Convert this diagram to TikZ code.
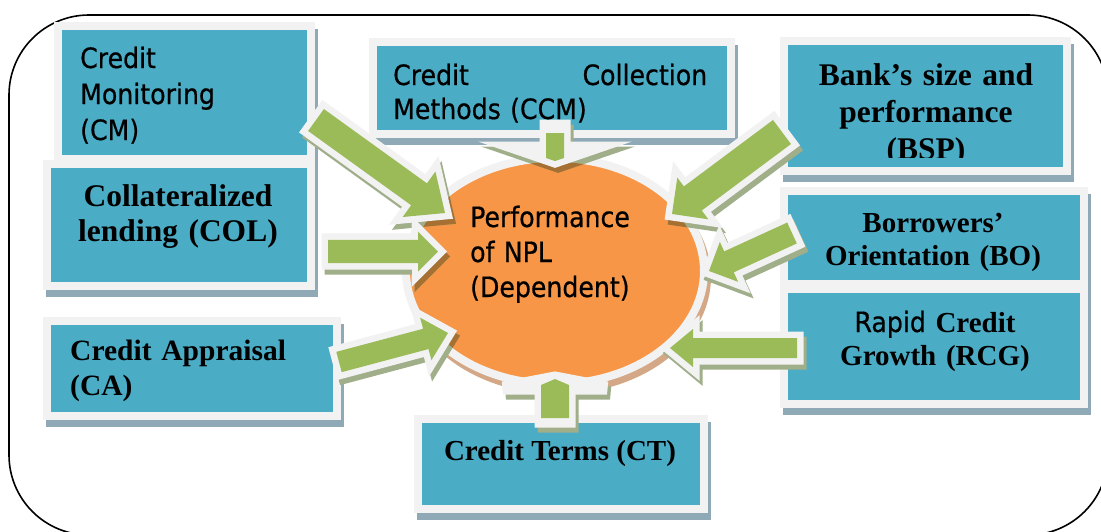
\documentclass[tikz,border=0pt]{standalone}
\usepackage{fontspec}
\usetikzlibrary{calc,shapes.geometric}
\newfontfamily\tahomalike[FakeStretch=0.9,FakeBold=0.6]{DejaVu Sans}
\newfontfamily\timeslike{Liberation Serif}

\definecolor{boxteal}{RGB}{75,172,198}
\definecolor{framegray}{RGB}{242,242,242}
\definecolor{boxshadow}{RGB}{143,170,182}
\definecolor{arrowgreen}{RGB}{155,187,89}
\definecolor{ashadow}{RGB}{160,174,138}
\definecolor{ashadoworange}{RGB}{165,112,50}
\definecolor{nplorange}{RGB}{247,150,70}
\definecolor{ellshadow}{RGB}{212,168,135}

% outline of a block arrow: #1 options, #2 tail, #3 tip,
% #4 head length, #5 head half width, #6 shaft half width
\newcommand{\arrowpath}[6]{%
  \pgfmathsetmacro\ahd{sqrt((#4)^2+(#5)^2)}%
  \pgfmathsetmacro\aha{atan((#5)/(#4))}%
  \pgfmathsetmacro\asd{sqrt((#4)^2+(#6)^2)}%
  \pgfmathsetmacro\asa{atan((#6)/(#4))}%
  \path[#1] ($(#2)!#6pt!-90:(#3)$) -- ($(#3)!\asd pt!\asa:(#2)$)
    -- ($(#3)!\ahd pt!\aha:(#2)$) -- (#3) -- ($(#3)!\ahd pt!-\aha:(#2)$)
    -- ($(#3)!\asd pt!-\asa:(#2)$) -- ($(#2)!#6pt!90:(#3)$) -- cycle;}

% framed block arrow with drop shadow: #6 fill colour
\newcommand{\blockarrow}[6]{%
  \arrowpath{draw=ashadow, fill=ashadow, line width=13pt, line join=miter,
    transform canvas={shift={(3pt,-5pt)}}}{#1}{#2}{#3}{#4}{#5}
  \begin{scope}
    \clip (npl.center) ellipse [x radius=144, y radius=109];
    \arrowpath{draw=ashadoworange, fill=ashadoworange, line width=13pt, line join=miter,
      transform canvas={shift={(3pt,-5pt)}}}{#1}{#2}{#3}{#4}{#5}
  \end{scope}
  \arrowpath{draw=framegray, line width=13pt, line join=miter}{#1}{#2}{#3}{#4}{#5}
  \arrowpath{fill=#6}{#1}{#2}{#3}{#4}{#5}}

\tikzset{
  boxbase/.style={rectangle, draw=framegray, line width=8pt, fill=boxteal, inner sep=0pt,
    preaction={draw=boxshadow, fill=boxshadow, transform canvas={shift={(3pt,-7pt)}}}},
  sanstext/.style={font=\tahomalike\fontsize{28}{#1}\selectfont, inner sep=0pt},
  seriftext/.style n args={2}{font=\timeslike\bfseries\fontsize{#1}{#2}\selectfont, inner sep=0pt},
}

\begin{document}
\begin{tikzpicture}[x=1pt,y=-1pt]
\useasboundingbox (0,0) rectangle (1101,531);
\clip (0,0) rectangle (1101,531);
\fill[white] (0,0) rectangle (1101,531);

% rounded outer frame
\draw[line width=1.6pt, rounded corners=80pt] (9,15) rectangle (1108,535);

% factor boxes
\node[boxbase, minimum width=253, minimum height=133] (cm)  at (184.5,92.5) {};
\node[boxbase, minimum width=264, minimum height=122] (col) at (179,225) {};
\node[boxbase, minimum width=358, minimum height=92]  (ccm) at (552,88) {};
\node[boxbase, minimum width=283, minimum height=130] (bsp) at (925.5,106) {};
\node[boxbase, minimum width=300, minimum height=93]  (bo)  at (934,237.5) {};
\node[boxbase, minimum width=300, minimum height=115] (rcg) at (934,346.5) {};
\node[boxbase, minimum width=290, minimum height=95]  (ca)  at (192,368.5) {};
\node[boxbase, minimum width=286, minimum height=90]  (ct)  at (561,464) {};

% dependent variable
\node[ellipse, draw=framegray, line width=8pt, fill=nplorange, inner sep=0pt,
  minimum width=298, minimum height=226,
  preaction={draw=ellshadow, fill=ellshadow, transform canvas={shift={(3pt,-6pt)}}}]
  (npl) at (555,271) {};

% arrow ends
\coordinate (cmT)  at (316,120);   \coordinate (cmH)  at (445,213);
\coordinate (colT) at (328,251.5); \coordinate (colH) at (438,251.5);
\coordinate (caT)  at (339,362);   \coordinate (caH)  at (448,333);
\coordinate (bspT) at (782,132);   \coordinate (bspH) at (672,214);
\coordinate (boT)  at (792,233);   \coordinate (boH)  at (709,271);
\coordinate (rcgT) at (797,348);   \coordinate (rcgH) at (670,348);
\coordinate (ccmT) at (555,126);   \coordinate (ccmH) at (555,161);
\coordinate (ccmS) at (555,133);
\coordinate (ctT)  at (555,421);   \coordinate (ctH)  at (555,378);
\coordinate (ctS)  at (555,418);   \coordinate (ctP)  at (555,379);

% arrows into the ellipse
\blockarrow{cmT}{cmH}{32}{28}{13.5}{arrowgreen}
\blockarrow{colT}{colH}{20}{20}{11.7}{arrowgreen}
\blockarrow{caT}{caH}{23}{22}{10.5}{arrowgreen}
\blockarrow{bspT}{bspH}{26}{26}{15}{arrowgreen}
\blockarrow{boT}{boH}{22}{22}{11.5}{arrowgreen}
\blockarrow{rcgT}{rcgH}{23}{19}{10}{arrowgreen}
\blockarrow{ccmT}{ccmH}{13}{38}{9}{framegray}
\arrowpath{fill=arrowgreen}{ccmS}{ccmH}{3}{9}{9}
\blockarrow{ctT}{ctH}{10}{52}{14}{framegray}
\arrowpath{fill=arrowgreen}{ctS}{ctP}{6}{14}{14}

% labels
\node[sanstext=36, anchor=base west, text width=230, align=left] (cmlabel) at (80,68)
  {Credit\\Monitoring\\(CM)};
\node[sanstext=34, anchor=base west, text width=314, align=left] (ccmlabel) at (393,85)
  {Credit\hfill Collection\\Methods (CCM)};
\node[seriftext={31.5}{35}, anchor=base, text width=260, align=center] (collabel) at (178,206)
  {Collateralized\\lending (COL)};
\begin{scope}
  \clip (780,40) rectangle (1070,157);
  \node[seriftext={31.5}{37}, anchor=base, text width=280, align=center] (bsplabel) at (926,85)
    {Bank’s size and\\performance\\(BSP)};
\end{scope}
\node[seriftext={29}{33}, anchor=base, text width=290, align=center] (bolabel) at (933,232)
  {Borrowers’\\Orientation (BO)};
\node[seriftext={29}{33}, anchor=base, text width=290, align=center] (rcglabel) at (935,332)
  {{\tahomalike\mdseries\fontsize{28}{33}\selectfont Rapid} Credit\\Growth (RCG)};
\node[seriftext={29.5}{35}, anchor=base west, text width=260, align=left] (calabel) at (70,360)
  {Credit Appraisal\\(CA)};
\node[seriftext={29}{34}, anchor=base] (ctlabel) at (560,460) {Credit Terms (CT)};
\node[sanstext=35, anchor=base west, text width=200, align=left] (npllabel) at (470,227)
  {Performance\\of NPL\\(Dependent)};
\end{tikzpicture}
\end{document}
